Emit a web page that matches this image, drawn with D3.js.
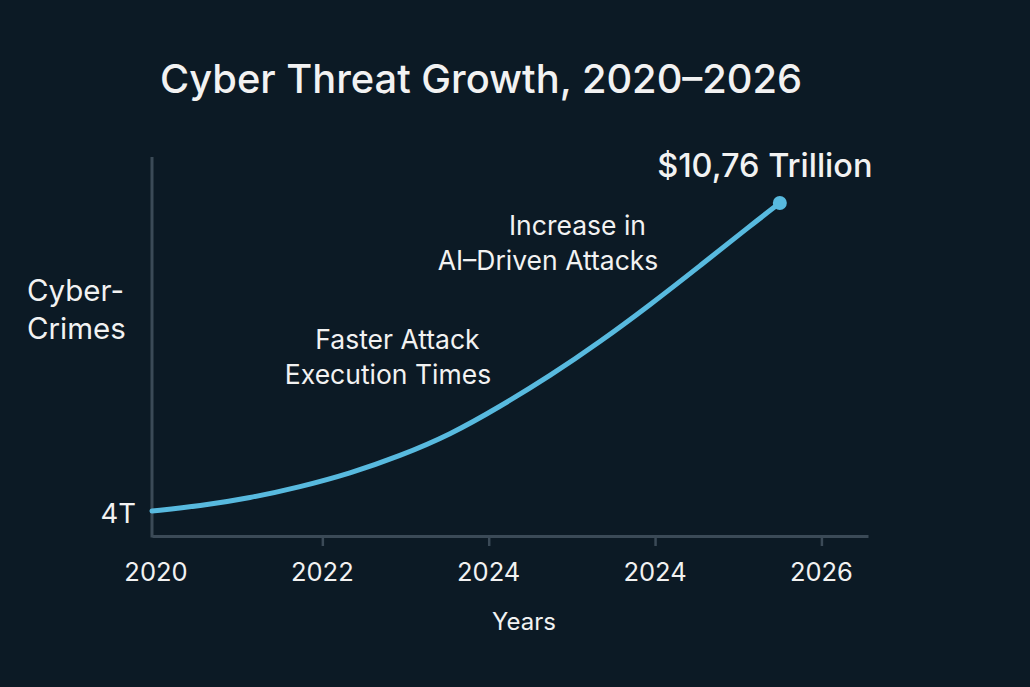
<!DOCTYPE html>
<html><head><meta charset="utf-8">
<script src="https://cdn.jsdelivr.net/npm/d3@7"></script>
<style>
html,body{margin:0;padding:0;background:#0c1a25;}
svg{display:block;}
text{font-family:Inter,"Noto Sans",sans-serif;fill:#f2f2f2;}
</style></head>
<body><svg id="c" width="1030" height="687"></svg>
<script>
// ---- data ----
const tickPositions = [0, 1, 2, 3, 4];
const tickLabels = ["2020", "2022", "2024", "2024", "2026"];
const curveX = [-0.024, 0.264, 0.565, 0.865, 1.166, 1.466, 1.767, 2.067, 2.368, 2.668, 2.969, 3.269, 3.570, 3.750];
const curveY = [4.00, 4.11, 4.285, 4.527, 4.823, 5.207, 5.670, 6.290, 6.963, 7.709, 8.521, 9.377, 10.255, 10.76];
const yTickValues = [4];
const yTickLabels = ["4T"];
const endLabel = "$10,76 Trillion";
const title = "Cyber Threat Growth, 2020–2026";
const yTitle = ["Cyber-", "Crimes"];
const xTitle = "Years";
const annotationLines = [
  ["Increase in", "AI–Driven Attacks"],
  ["Faster Attack", "Execution Times"]
];

// ---- layout ----
const svg = d3.select("#c");
const x = d3.scaleLinear().domain([-0.024, 4.28]).range([152, 868]);
const y = d3.scaleLinear().domain([3.451, 11.77]).range([536, 157]);
const axisColor = "#3b4a57";
const lineColor = "#58badf";

// title
svg.append("text").attr("x", 160).attr("y", 93).attr("font-size", 39.8).attr("font-weight", 500).text(title);

// axes
const gx = svg.append("g").attr("transform", `translate(0,${y.range()[0]})`)
  .call(d3.axisBottom(x).tickValues(tickPositions.slice(1)).tickFormat("").tickSize(10).tickSizeOuter(0));
gx.select(".domain").attr("stroke", axisColor).attr("stroke-width", 3);
gx.selectAll(".tick line").attr("stroke", axisColor).attr("stroke-width", 2.5);
svg.append("line").attr("x1", x.range()[0]).attr("x2", x.range()[0]).attr("y1", y.range()[1]).attr("y2", y.range()[0] + 1.5)
  .attr("stroke", axisColor).attr("stroke-width", 3);

// x tick labels
svg.append("g").selectAll("text").data(tickPositions).join("text")
  .attr("x", d => x(d)).attr("y", 581).attr("text-anchor", "middle")
  .attr("font-size", 25.5).text((d, i) => tickLabels[i]);

// y tick label
svg.append("g").selectAll("text").data(yTickValues).join("text")
  .attr("x", 136).attr("y", d => y(d) + 12).attr("text-anchor", "end")
  .attr("font-size", 27.5).text((d, i) => yTickLabels[i]);

// axis titles
svg.append("text").attr("x", 524).attr("y", 630).attr("text-anchor", "middle").attr("font-size", 24).text(xTitle);
const yt = svg.append("text").attr("x", 27).attr("y", 301).attr("font-size", 29.5);
yTitle.forEach((t, i) => yt.append("tspan").attr("x", 27).attr("dy", i ? 38 : 0).text(t));

// curve
const pts = curveX.map((d, i) => [d, curveY[i]]);
svg.append("path").datum(pts)
  .attr("d", d3.line().x(d => x(d[0])).y(d => y(d[1])).curve(d3.curveBasis))
  .attr("fill", "none").attr("stroke", lineColor).attr("stroke-width", 5).attr("stroke-linecap", "round");
const last = pts[pts.length - 1];
svg.append("circle").attr("cx", x(last[0])).attr("cy", y(last[1])).attr("r", 7).attr("fill", lineColor);

// end label
svg.append("text").attr("x", x(last[0]) - 15).attr("y", y(last[1]) - 26).attr("text-anchor", "middle")
  .attr("font-size", 32.5).attr("font-weight", 500).text(endLabel);

// annotations (line centres in px, baseline of first line)
const annLayout = [
  {cx: [577.5, 548], y0: 235},
  {cx: [397.5, 388], y0: 349}
];
annotationLines.forEach((lines, k) => {
  const L = annLayout[k];
  const t = svg.append("text").attr("text-anchor", "middle").attr("font-size", 26.5);
  lines.forEach((l, i) => t.append("tspan").attr("x", L.cx[i]).attr("y", L.y0 + i * 35).text(l));
});
</script></body></html>
